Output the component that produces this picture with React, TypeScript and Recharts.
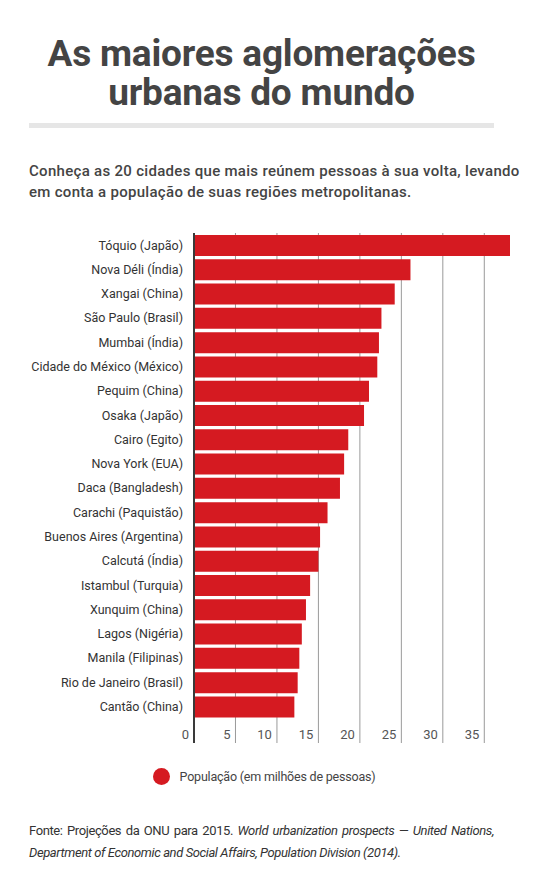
import React from "react";
import { BarChart, Bar, XAxis, YAxis, CartesianGrid, Legend } from "recharts";

// --- Data ---

const CITIES = [
  "Tóquio (Japão)",
  "Nova Déli (Índia)",
  "Xangai (China)",
  "São Paulo (Brasil)",
  "Mumbai (Índia)",
  "Cidade do México (México)",
  "Pequim (China)",
  "Osaka (Japão)",
  "Cairo (Egito)",
  "Nova York (EUA)",
  "Daca (Bangladesh)",
  "Carachi (Paquistão)",
  "Buenos Aires (Argentina)",
  "Calcutá (Índia)",
  "Istambul (Turquia)",
  "Xunquim (China)",
  "Lagos (Nigéria)",
  "Manila (Filipinas)",
  "Rio de Janeiro (Brasil)",
  "Cantão (China)",
];

// população em milhões
const POPULATION = [
  38.1, 26.1, 24.2, 22.6, 22.3, 22.1, 21.1, 20.5, 18.6, 18.1, 17.6, 16.1, 15.2,
  15.0, 14.0, 13.5, 13.0, 12.7, 12.5, 12.1,
];

const X_TICKS = [0, 5, 10, 15, 20, 25, 30, 35];

const SERIES_NAME = "População (em milhões de pessoas)";

// --- Style ---

const RED = "#d51a21";
const TEXT = "#444444";
const FONT = "Roboto, 'Noto Sans', sans-serif";

// last empty row keeps room for the tick labels inside the plot
const data = [
  ...CITIES.map((city, i) => ({ city, pop: POPULATION[i] })),
  { city: "", pop: null },
];

function XTick({ x, y, payload }: any) {
  return (
    <text x={x - 5} y={y - 4} textAnchor="end" fill="#555" fontSize={13} fontFamily={FONT}>
      {payload.value}
    </text>
  );
}

// only the tick lines, skip the extra line recharts adds on the plot's right edge
function GridLine(props: any) {
  const { x1, y1, x2, y2, index } = props;
  if (index >= X_TICKS.length) return <g key={`gl-${index}`} />;
  return <line key={`gl-${index}`} x1={x1} y1={y1} x2={x2} y2={y2} stroke="#9a9a9a" strokeWidth={1} />;
}

function LegendContent() {
  return (
    <div style={{ display: "flex", alignItems: "center", justifyContent: "center", gap: 10, paddingRight: 22 }}>
      <span style={{ width: 17, height: 17, borderRadius: "50%", background: RED, display: "inline-block" }} />
      <span style={{ fontSize: 12.5, color: TEXT, fontFamily: FONT, letterSpacing: -0.2 }}>{SERIES_NAME}</span>
    </div>
  );
}

export default function App() {
  return (
    <div
      style={{
        position: "absolute",
        top: 0,
        left: 0,
        width: 550,
        height: 891,
        background: "#fff",
        fontFamily: FONT,
        color: TEXT,
      }}
    >
      <div
        style={{
          position: "absolute",
          top: 34,
          left: 29,
          width: 465,
          textAlign: "center",
          fontSize: 37,
          lineHeight: "39px",
          letterSpacing: -0.2,
          fontWeight: 700,
          color: "#444",
        }}
      >
        As maiores aglomerações
        <br />
        urbanas do mundo
      </div>
      <div style={{ position: "absolute", top: 123, left: 29, width: 465, height: 5, background: "#e6e6e6" }} />
      <div
        style={{
          position: "absolute",
          top: 161,
          left: 29,
          width: 510,
          fontSize: 15,
          lineHeight: "21px",
          fontWeight: 500,
          letterSpacing: 0.3,
          color: "#444",
          whiteSpace: "nowrap",
        }}
      >
        Conheça as 20 cidades que mais reúnem pessoas à sua volta, levando
        <br />
        em conta a população de suas regiões metropolitanas.
      </div>

      <div style={{ position: "absolute", top: 225, left: 0 }}>
        <BarChart
          width={550}
          height={570}
          data={data}
          layout="vertical"
          margin={{ top: 8, right: 40, bottom: 32, left: 0 }}
        >
          <CartesianGrid horizontal={false} vertical={GridLine} syncWithTicks />
          <XAxis
            type="number"
            domain={[0, "dataMax"]}
            ticks={X_TICKS}
            tick={<XTick />}
            axisLine={false}
            tickLine={false}
            tickSize={0}
            tickMargin={0}
            height={20}
          />
          <YAxis
            type="category"
            dataKey="city"
            width={194}
            axisLine={{ stroke: "#3a3a3a", strokeWidth: 2 }}
            tickLine={false}
            tickSize={0}
            tickMargin={11}
            interval={0}
            tick={{ fill: "#333", fontSize: 12.5, fontFamily: FONT }}
          />
          <Legend
            verticalAlign="middle"
            align="center"
            content={<LegendContent />}
            wrapperStyle={{ top: 543, left: 0, width: 550 }}
          />
          <Bar dataKey="pop" name={SERIES_NAME} fill={RED} barSize={21} isAnimationActive={false} />
        </BarChart>
      </div>

      <div
        style={{
          position: "absolute",
          top: 820,
          left: 29,
          width: 465,
          fontSize: 13,
          lineHeight: "22px",
          letterSpacing: -0.4,
          textAlign: "justify",
          color: "#333",
        }}
      >
        Fonte: Projeções da ONU para 2015.{"  "}
        <i>
          World urbanization prospects — United Nations, Department of Economic and Social
          Affairs, Population Division (2014).
        </i>
      </div>
    </div>
  );
}
